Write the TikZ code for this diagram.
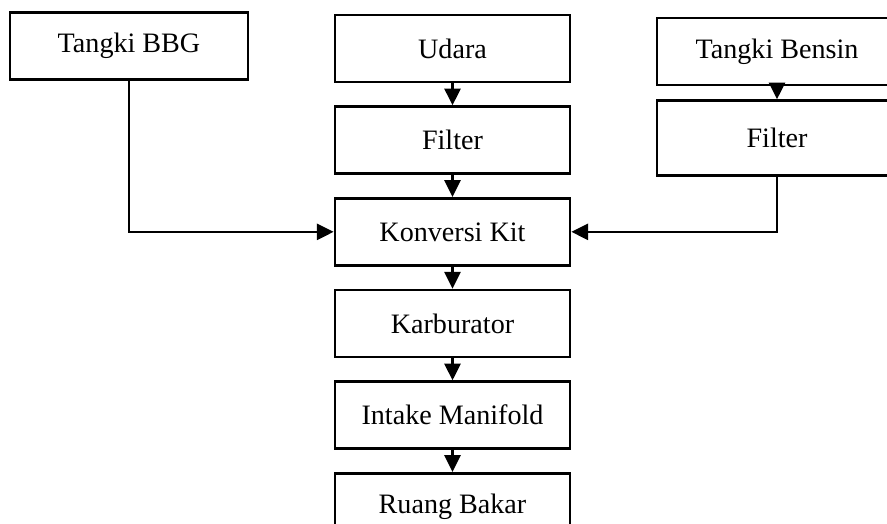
\documentclass[tikz,border=0pt]{standalone}
\usepackage{fontspec}
\setmainfont{Liberation Serif}
\usetikzlibrary{positioning, arrows.meta}

\begin{document}
\begin{tikzpicture}[
                    font=\fontsize{20}{24}\selectfont,
                    node distance=0.55cm,
                    line width=1.9pt,
                    >={Triangle[length=0.42cm,width=0.4cm]},
                    blok/.style={draw, rectangle, minimum width=5.875cm, minimum height=1.675cm, inner sep=0pt}
                ]
                    \clip (0,0) rectangle (22.175,-13.075);
                    % sumber bahan bakar
                    \node[blok, minimum width=5.95cm] (BBG) at (3.225,-1.15) {Tangki BBG};
                    \node[blok, minimum width=6cm] (TB) at (19.425,-1.2875) {Tangki Bensin};
                    \node[blok, minimum width=6cm, minimum height=1.875cm, below=0.325cm of TB] (FB) {Filter};
                    % jalur utama
                    \node[blok] (U) at (11.3125,-1.2125) {Udara};
                    \node[blok, below=of U] (F) {Filter};
                    \node[blok, below=of F] (KK) {Konversi Kit};
                    \node[blok, below=of KK] (K) {Karburator};
                    \node[blok, below=of K] (IM) {Intake Manifold};
                    \node[blok, below=of IM] (RB) {Ruang Bakar};
                    \draw[->] (U) -- (F);
                    \draw[->] (F) -- (KK);
                    \draw[->] (KK) -- (K);
                    \draw[->] (K) -- (IM);
                    \draw[->] (IM) -- (RB);
                    \draw[->] (TB) -- (FB);
                    \draw[->] (BBG.south) |- (KK.west);
                    \draw[->] (FB.south) |- (KK.east);
                \end{tikzpicture}
\end{document}
